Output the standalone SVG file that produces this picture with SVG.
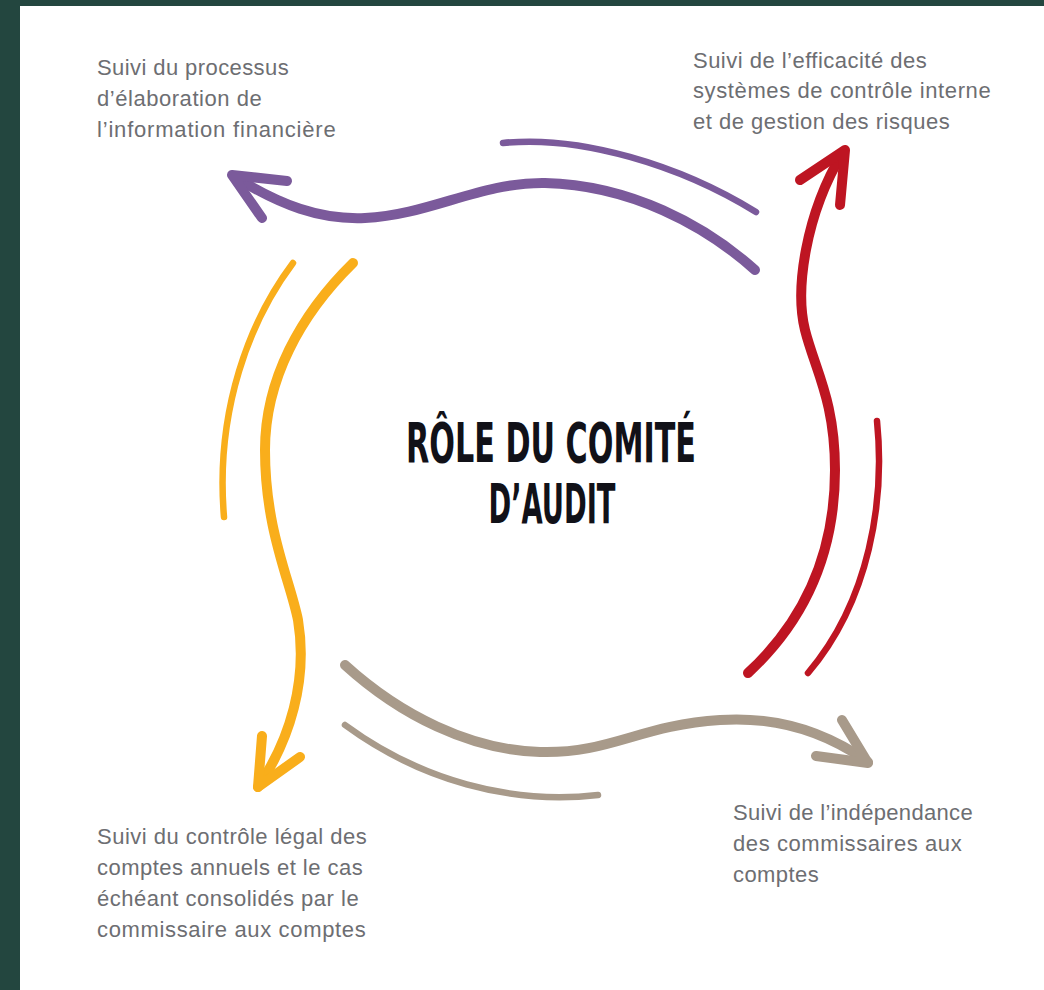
<svg xmlns="http://www.w3.org/2000/svg" width="1044" height="990" viewBox="0 0 1044 990">
<style>
.lbl{font-family:"Liberation Sans","DejaVu Sans",sans-serif;font-size:22px;fill:#6d6e72;letter-spacing:0.3px}
.title{font-family:"DejaVu Sans Condensed","Liberation Sans",sans-serif;font-weight:bold;font-size:55px;fill:#111118;text-anchor:middle}
.c{fill:none;stroke-linecap:round;stroke-linejoin:round}
.m{stroke-width:10}
.t{stroke-width:6.5}
.pu{stroke:#7b5a9b}
.rd{stroke:#be1522}
.ye{stroke:#f9ae1b}
.gr{stroke:#a89a8a}
</style>
<rect x="0" y="0" width="1044" height="990" fill="#ffffff"/>
<rect x="0" y="0" width="1044" height="6" fill="#23463f"/>
<rect x="0" y="0" width="20" height="990" fill="#23463f"/>
<g id="title">
<text class="title" x="551" y="462" textLength="290" lengthAdjust="spacingAndGlyphs">RÔLE DU COMITÉ</text>
<text class="title" x="552" y="523" textLength="127" lengthAdjust="spacingAndGlyphs">D’AUDIT</text>
</g>
<g id="node-information-financiere">
<text class="lbl" x="97" y="75" textLength="192">Suivi du processus</text>
<text class="lbl" x="97" y="106" textLength="165">d’élaboration de</text>
<text class="lbl" x="97" y="137" textLength="239">l’information financière</text>
</g>
<g id="node-controle-interne">
<text class="lbl" x="693" y="68" textLength="234">Suivi de l’efficacité des</text>
<text class="lbl" x="693" y="98" textLength="298">systèmes de contrôle interne</text>
<text class="lbl" x="693" y="129" textLength="257">et de gestion des risques</text>
</g>
<g id="node-controle-legal">
<text class="lbl" x="97" y="844" textLength="270">Suivi du contrôle légal des</text>
<text class="lbl" x="97" y="875" textLength="266">comptes annuels et le cas</text>
<text class="lbl" x="97" y="906" textLength="262">échéant consolidés par le</text>
<text class="lbl" x="97" y="937" textLength="269">commissaire aux comptes</text>
</g>
<g id="node-independance">
<text class="lbl" x="733" y="820" textLength="240">Suivi de l’indépendance</text>
<text class="lbl" x="733" y="851" textLength="229">des commissaires aux</text>
<text class="lbl" x="733" y="882" textLength="86">comptes</text>
</g>
<g id="connectors">
<path class="c m pu" d="M755,270 C705,225 630,185 545,183 C480,182 430,215 365,218 C320,220 280,205 235,177"/>
<path class="c m pu" d="M287,181 L232,175 L262,218"/>
<path class="c t pu" d="M503,143 C580,135 680,165 756,212"/>
<path class="c m rd" d="M748,673 C800,625 835,560 835,470 C835,400 815,370 805,330 C795,290 805,215 843,152"/>
<path class="c m rd" d="M800,180 L845,150 L840,205"/>
<path class="c t rd" d="M877,421 C885,500 870,600 808,673"/>
<path class="c m ye" d="M353,263 C300,315 265,380 265,450 C265,530 290,580 298,620 C308,680 290,740 258,787"/>
<path class="c m ye" d="M262,736 L258,787 L300,757"/>
<path class="c t ye" d="M293,263 C250,320 215,410 224,517"/>
<path class="c m gr" d="M345,665 C400,715 470,750 540,752 C610,754 640,725 720,720 C780,716 830,735 868,762"/>
<path class="c m gr" d="M842,720 L868,763 L816,756"/>
<path class="c t gr" d="M345,725 C420,780 510,805 598,795"/>
</g>
</svg>
